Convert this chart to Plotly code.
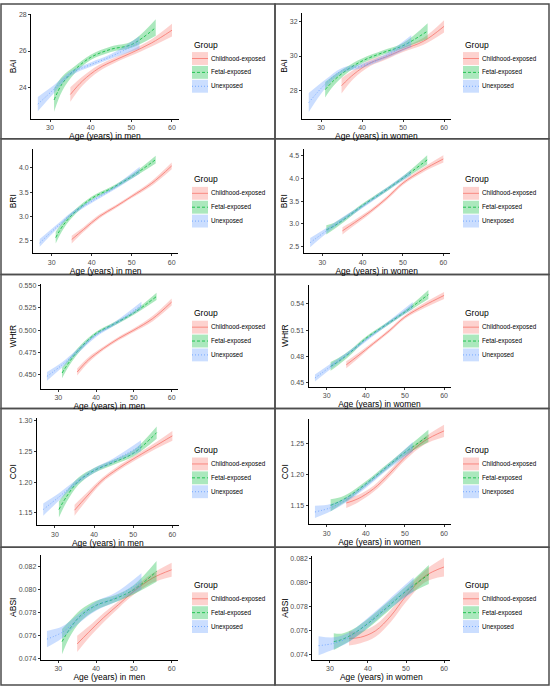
import plotly.graph_objects as go

# ages at which the fitted curves were read
AGE_UNEXP = [27, 31, 35, 40, 45, 52]
AGE_FETAL = [31, 33, 36, 40, 45, 50, 56]
AGE_CHILD = [35, 38, 42, 46, 50, 55, 60]

GROUPS = ["Childhood-exposed", "Fetal-exposed", "Unexposed"]

# fitted value and half width of the confidence band, per panel and group
BAI_MEN_CHILD = [23.6, 24.35, 25.05, 25.5, 25.9, 26.45, 27.15]
BAI_MEN_CHILD_HW = [0.4, 0.25, 0.18, 0.15, 0.15, 0.2, 0.35]
BAI_MEN_FETAL = [23.3, 24.2, 24.95, 25.65, 26.1, 26.35, 27.3]
BAI_MEN_FETAL_HW = [0.65, 0.4, 0.2, 0.15, 0.15, 0.17, 0.45]
BAI_MEN_UNEXP = [23.07, 23.9, 24.75, 25.25, 25.7, 26.47]
BAI_MEN_UNEXP_HW = [0.4, 0.22, 0.13, 0.12, 0.13, 0.35]

BAI_WOMEN_CHILD = [28.28, 28.95, 29.6, 29.96, 30.38, 30.86, 31.72]
BAI_WOMEN_CHILD_HW = [0.45, 0.25, 0.18, 0.14, 0.14, 0.2, 0.35]
BAI_WOMEN_FETAL = [28.05, 28.56, 29.14, 29.71, 30.19, 30.6, 31.45]
BAI_WOMEN_FETAL_HW = [0.45, 0.3, 0.2, 0.15, 0.13, 0.15, 0.45]
BAI_WOMEN_UNEXP = [27.3, 28.37, 29.14, 29.43, 29.9, 30.86]
BAI_WOMEN_UNEXP_HW = [0.55, 0.25, 0.15, 0.13, 0.13, 0.35]

BRI_MEN_CHILD = [2.52, 2.73, 3.0, 3.2, 3.41, 3.68, 4.04]
BRI_MEN_CHILD_HW = [0.08, 0.05, 0.04, 0.035, 0.035, 0.05, 0.07]
BRI_MEN_FETAL = [2.56, 2.83, 3.1, 3.37, 3.58, 3.82, 4.17]
BRI_MEN_FETAL_HW = [0.12, 0.08, 0.05, 0.04, 0.035, 0.04, 0.08]
BRI_MEN_UNEXP = [2.45, 2.76, 3.05, 3.31, 3.55, 3.95]
BRI_MEN_UNEXP_HW = [0.08, 0.05, 0.04, 0.035, 0.035, 0.07]

BRI_WOMEN_CHILD = [2.85, 3.03, 3.28, 3.57, 3.9, 4.19, 4.43]
BRI_WOMEN_CHILD_HW = [0.08, 0.06, 0.045, 0.04, 0.04, 0.05, 0.08]
BRI_WOMEN_FETAL = [2.87, 2.96, 3.14, 3.41, 3.7, 4.01, 4.41]
BRI_WOMEN_FETAL_HW = [0.1, 0.07, 0.05, 0.04, 0.04, 0.04, 0.1]
BRI_WOMEN_UNEXP = [2.59, 2.85, 3.1, 3.39, 3.7, 4.13]
BRI_WOMEN_UNEXP_HW = [0.1, 0.06, 0.05, 0.04, 0.04, 0.06]

WHTR_MEN_CHILD = [0.453, 0.4667, 0.4796, 0.4907, 0.5, 0.513, 0.5315]
WHTR_MEN_CHILD_HW = [0.004, 0.003, 0.002, 0.002, 0.002, 0.003, 0.004]
WHTR_MEN_FETAL = [0.4519, 0.4648, 0.4807, 0.4963, 0.5074, 0.5193, 0.5378]
WHTR_MEN_FETAL_HW = [0.006, 0.004, 0.003, 0.002, 0.002, 0.002, 0.004]
WHTR_MEN_UNEXP = [0.4481, 0.461, 0.476, 0.4944, 0.5074, 0.5278]
WHTR_MEN_UNEXP_HW = [0.005, 0.003, 0.0025, 0.002, 0.002, 0.004]

WHTR_WOMEN_CHILD = [0.4706, 0.4808, 0.495, 0.5093, 0.525, 0.5381, 0.5494]
WHTR_WOMEN_CHILD_HW = [0.004, 0.003, 0.002, 0.002, 0.002, 0.003, 0.004]
WHTR_WOMEN_FETAL = [0.4688, 0.4744, 0.4845, 0.5006, 0.5156, 0.5306, 0.5505]
WHTR_WOMEN_FETAL_HW = [0.005, 0.004, 0.003, 0.002, 0.002, 0.002, 0.005]
WHTR_WOMEN_UNEXP = [0.4556, 0.4688, 0.4819, 0.4988, 0.5156, 0.5381]
WHTR_WOMEN_UNEXP_HW = [0.004, 0.003, 0.002, 0.002, 0.002, 0.004]

COI_MEN_CHILD = [1.1543, 1.1758, 1.2027, 1.2215, 1.2376, 1.2565, 1.2753]
COI_MEN_CHILD_HW = [0.009, 0.006, 0.004, 0.004, 0.004, 0.005, 0.008]
COI_MEN_FETAL = [1.1554, 1.1769, 1.2016, 1.2188, 1.2323, 1.2468, 1.2806]
COI_MEN_FETAL_HW = [0.013, 0.009, 0.006, 0.004, 0.004, 0.005, 0.01]
COI_MEN_UNEXP = [1.1554, 1.1758, 1.1973, 1.2188, 1.235, 1.2591]
COI_MEN_UNEXP_HW = [0.01, 0.006, 0.004, 0.004, 0.004, 0.009]

COI_WOMEN_CHILD = [1.1535, 1.1605, 1.1768, 1.2011, 1.2281, 1.2551, 1.2714]
COI_WOMEN_CHILD_HW = [0.008, 0.006, 0.005, 0.005, 0.005, 0.006, 0.01]
COI_WOMEN_FETAL = [1.1497, 1.1551, 1.1659, 1.1849, 1.2108, 1.2362, 1.2632]
COI_WOMEN_FETAL_HW = [0.01, 0.007, 0.005, 0.004, 0.004, 0.005, 0.01]
COI_WOMEN_UNEXP = [1.1389, 1.1459, 1.1589, 1.1822, 1.2092, 1.2454]
COI_WOMEN_UNEXP_HW = [0.01, 0.006, 0.004, 0.004, 0.004, 0.008]

ABSI_MEN_CHILD = [0.07529, 0.07629, 0.07757, 0.07871, 0.07986, 0.081, 0.08171]
ABSI_MEN_CHILD_HW = [0.0007, 0.0005, 0.0004, 0.0003, 0.0003, 0.0004, 0.0006]
ABSI_MEN_FETAL = [0.07549, 0.07657, 0.07777, 0.07863, 0.0792, 0.08, 0.08157]
ABSI_MEN_FETAL_HW = [0.0011, 0.0007, 0.0005, 0.0004, 0.0003, 0.0004, 0.0009]
ABSI_MEN_UNEXP = [0.07571, 0.07629, 0.07737, 0.07857, 0.07929, 0.08071]
ABSI_MEN_UNEXP_HW = [0.0007, 0.0005, 0.0004, 0.0004, 0.0004, 0.0007]

ABSI_WOMEN_CHILD = [0.07534, 0.07543, 0.07598, 0.07722, 0.07889, 0.08055, 0.08132]
ABSI_WOMEN_CHILD_HW = [0.0006, 0.0005, 0.0005, 0.0005, 0.0005, 0.0005, 0.0008]
ABSI_WOMEN_FETAL = [0.07507, 0.07523, 0.0757, 0.07659, 0.07792, 0.0793, 0.08069]
ABSI_WOMEN_FETAL_HW = [0.0007, 0.0005, 0.0004, 0.0004, 0.0004, 0.0004, 0.0008]
ABSI_WOMEN_UNEXP = [0.07473, 0.07493, 0.07543, 0.07667, 0.07806, 0.07985]
ABSI_WOMEN_UNEXP_HW = [0.0008, 0.0005, 0.0004, 0.0004, 0.0004, 0.0006]

W, H = 550, 690
FONT = "Liberation Sans, Arial, sans-serif"
COLORS = ["#F8766D", "#00BA38", "#619CFF"]
FILLS = ["rgba(248,118,109,0.33)", "rgba(0,186,56,0.33)", "rgba(97,156,255,0.33)"]
DASHES = ["solid", "3px,2px", "1px,2px"]


def px(x):
    return x / W


def py(y):
    return 1 - y / H


# (ylabel, xlabel, data, yrange, yticks, tickformat, box in px: left, right, top, bottom)
panels = [
    ("BAI", "Age (years) in men",
     [(BAI_MEN_CHILD, BAI_MEN_CHILD_HW), (BAI_MEN_FETAL, BAI_MEN_FETAL_HW), (BAI_MEN_UNEXP, BAI_MEN_UNEXP_HW)],
     [22.25, 28.05], [24, 26, 28], "d", (31.1, 178.7, 11, 117)),
    ("BAI", "Age (years) in women",
     [(BAI_WOMEN_CHILD, BAI_WOMEN_CHILD_HW), (BAI_WOMEN_FETAL, BAI_WOMEN_FETAL_HW), (BAI_WOMEN_UNEXP, BAI_WOMEN_UNEXP_HW)],
     [26.35, 32.5], [28, 30, 32], "d", (302, 450.8, 10, 117)),
    ("BRI", "Age (years) in men",
     [(BRI_MEN_CHILD, BRI_MEN_CHILD_HW), (BRI_MEN_FETAL, BRI_MEN_FETAL_HW), (BRI_MEN_UNEXP, BRI_MEN_UNEXP_HW)],
     [2.24, 4.38], [2.5, 3.0, 3.5, 4.0], ".1f", (33.1, 178.3, 147.7, 252.3)),
    ("BRI", "Age (years) in women",
     [(BRI_WOMEN_CHILD, BRI_WOMEN_CHILD_HW), (BRI_WOMEN_FETAL, BRI_WOMEN_FETAL_HW), (BRI_WOMEN_UNEXP, BRI_WOMEN_UNEXP_HW)],
     [2.36, 4.64], [2.5, 3.0, 3.5, 4.0, 4.5], ".1f", (303.5, 450, 147.7, 252.3)),
    ("WHtR", "Age (years) in men",
     [(WHTR_MEN_CHILD, WHTR_MEN_CHILD_HW), (WHTR_MEN_FETAL, WHTR_MEN_FETAL_HW), (WHTR_MEN_UNEXP, WHTR_MEN_UNEXP_HW)],
     [0.4344, 0.5519], [0.45, 0.475, 0.5, 0.525, 0.55], ".3f", (40.7, 177.9, 283.3, 389)),
    ("WHtR", "Age (years) in women",
     [(WHTR_WOMEN_CHILD, WHTR_WOMEN_CHILD_HW), (WHTR_WOMEN_FETAL, WHTR_WOMEN_FETAL_HW), (WHTR_WOMEN_UNEXP, WHTR_WOMEN_UNEXP_HW)],
     [0.4455, 0.5618], [0.45, 0.48, 0.51, 0.54], ".2f", (308.5, 450.5, 284, 387.3)),
    ("COI", "Age (years) in men",
     [(COI_MEN_CHILD, COI_MEN_CHILD_HW), (COI_MEN_FETAL, COI_MEN_FETAL_HW), (COI_MEN_UNEXP, COI_MEN_UNEXP_HW)],
     [1.130, 1.3038], [1.15, 1.2, 1.25, 1.3], ".2f", (36.8, 178.8, 419, 526.7)),
    ("COI", "Age (years) in women",
     [(COI_WOMEN_CHILD, COI_WOMEN_CHILD_HW), (COI_WOMEN_FETAL, COI_WOMEN_FETAL_HW), (COI_WOMEN_UNEXP, COI_WOMEN_UNEXP_HW)],
     [1.119, 1.2903], [1.15, 1.2, 1.25], ".2f", (308.5, 450.5, 420, 525.7)),
    ("ABSI", "Age (years) in men",
     [(ABSI_MEN_CHILD, ABSI_MEN_CHILD_HW), (ABSI_MEN_FETAL, ABSI_MEN_FETAL_HW), (ABSI_MEN_UNEXP, ABSI_MEN_UNEXP_HW)],
     [0.07394, 0.0830], [0.074, 0.076, 0.078, 0.08, 0.082], ".3f", (40.7, 177.9, 556.7, 662.3)),
    ("ABSI", "Age (years) in women",
     [(ABSI_WOMEN_CHILD, ABSI_WOMEN_CHILD_HW), (ABSI_WOMEN_FETAL, ABSI_WOMEN_FETAL_HW), (ABSI_WOMEN_UNEXP, ABSI_WOMEN_UNEXP_HW)],
     [0.07357, 0.0822], [0.074, 0.076, 0.078, 0.08, 0.082], ".3f", (312.3, 450.3, 558.3, 662.3)),
]

ages = [AGE_CHILD, AGE_FETAL, AGE_UNEXP]
row_edges = [1, 137, 274, 409, 549, 688]
col_edges = [1, 275, 549]
legend_title_y = [42, 178, 313, 451, 587]
legend_x = [192, 463]

fig = go.Figure()
layout = {}
shapes = []
annotations = []

for i, (ylab, xlab, data, yr, yt, fmt, box) in enumerate(panels):
    n = i + 1
    s = "" if n == 1 else str(n)
    xa, ya = "x" + s, "y" + s
    left, right, top, bottom = box
    for g in range(3):
        fit, hw = data[g]
        lo = [f - h for f, h in zip(fit, hw)]
        hi = [f + h for f, h in zip(fit, hw)]
        fig.add_trace(go.Scatter(x=ages[g], y=lo, mode="lines", xaxis=xa, yaxis=ya,
                                 line=dict(width=0, shape="spline", color=COLORS[g]),
                                 showlegend=False, hoverinfo="skip"))
        fig.add_trace(go.Scatter(x=ages[g], y=hi, mode="lines", xaxis=xa, yaxis=ya,
                                 fill="tonexty", fillcolor=FILLS[g],
                                 line=dict(width=0, shape="spline", color=COLORS[g]),
                                 showlegend=False, hoverinfo="skip"))
        fig.add_trace(go.Scatter(x=ages[g], y=fit, mode="lines", xaxis=xa, yaxis=ya,
                                 line=dict(width=0.8, shape="spline", color=COLORS[g], dash=DASHES[g]),
                                 name=GROUPS[g], showlegend=False))

    common = dict(showline=True, linecolor="black", linewidth=1, ticks="outside", ticklen=2,
                  tickcolor="#333333", tickwidth=1, showgrid=False, zeroline=False,
                  tickfont=dict(size=7, color="#4D4D4D", family=FONT))
    layout["xaxis" + s] = dict(common, domain=[px(left), px(right)], range=[25.35, 61.65],
                               anchor=ya, tickvals=[30, 40, 50, 60],
                               title=dict(text=xlab, standoff=0,
                                          font=dict(size=8.5, color="black", family=FONT)))
    layout["yaxis" + s] = dict(common, domain=[py(bottom), py(top)], range=yr, anchor=xa,
                               tickvals=yt, tickformat=fmt,
                               title=dict(text=ylab, standoff=0,
                                          font=dict(size=8.5, color="black", family=FONT)))

    # panel frame
    r, c = i // 2, i % 2
    shapes.append(dict(type="rect", xref="paper", yref="paper",
                       x0=px(col_edges[c]), x1=px(col_edges[c + 1]),
                       y0=py(row_edges[r + 1]), y1=py(row_edges[r]),
                       line=dict(color="#4D4D4D", width=1.5)))

    # legend
    lx = legend_x[c]
    ty = legend_title_y[r]
    annotations.append(dict(text="Group", xref="paper", yref="paper", x=px(lx), y=py(ty),
                            xanchor="left", yanchor="middle", showarrow=False,
                            font=dict(size=8.5, color="black", family=FONT)))
    for g in range(3):
        ky = ty + 14 * (g + 1)
        shapes.append(dict(type="rect", xref="paper", yref="paper",
                           x0=px(lx), x1=px(lx + 16), y0=py(ky + 6.5), y1=py(ky - 6.5),
                           fillcolor=FILLS[g], line=dict(width=0)))
        shapes.append(dict(type="line", xref="paper", yref="paper",
                           x0=px(lx), x1=px(lx + 16), y0=py(ky), y1=py(ky),
                           line=dict(color=COLORS[g], width=0.8, dash=DASHES[g])))
        annotations.append(dict(text=GROUPS[g], xref="paper", yref="paper", x=px(lx + 17), y=py(ky),
                                xanchor="left", yanchor="middle", showarrow=False,
                                font=dict(size=6.3, color="black", family=FONT)))

fig.update_layout(**layout)
fig.update_layout(width=W, height=H, margin=dict(l=0, r=0, t=0, b=0),
                  paper_bgcolor="white", plot_bgcolor="white",
                  shapes=shapes, annotations=annotations, showlegend=False,
                  font=dict(family=FONT))
fig.write_html("out.html", config={"displayModeBar": False},
               post_script="document.body.style.margin='0';")
